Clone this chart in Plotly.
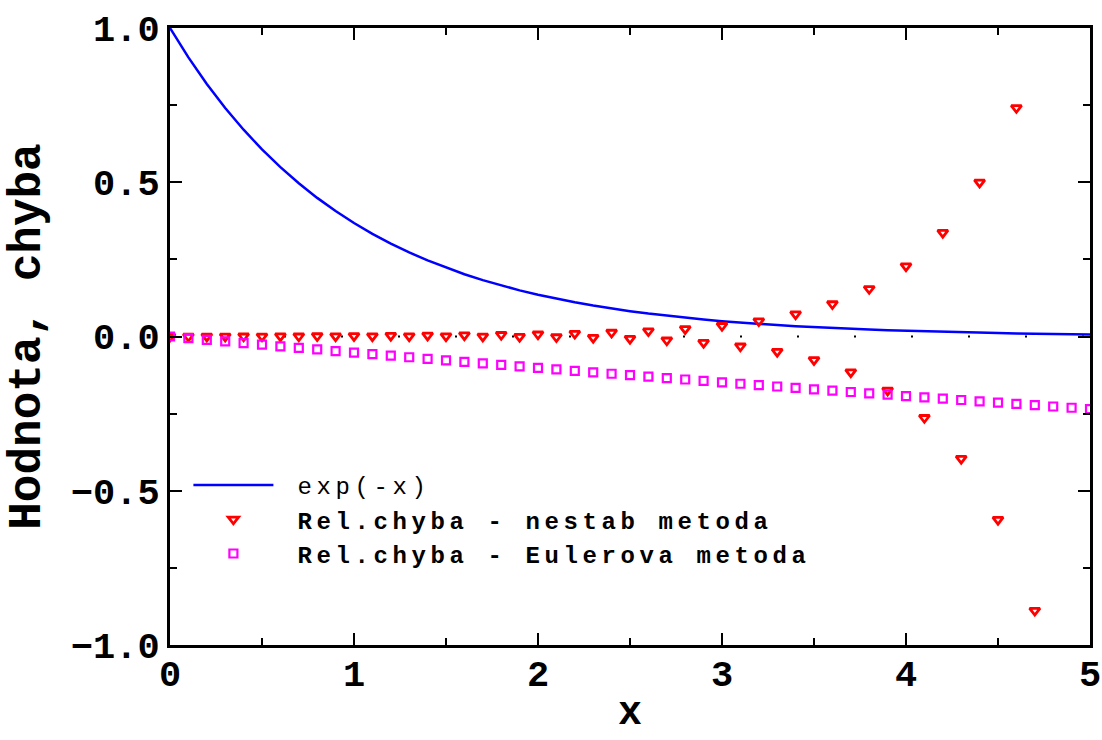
import plotly.graph_objects as go

# x grid (step 0.1)
x = [0.0, 0.1, 0.2, 0.3, 0.4, 0.5, 0.6, 0.7, 0.8, 0.9,
     1.0, 1.1, 1.2, 1.3, 1.4, 1.5, 1.6, 1.7, 1.8, 1.9,
     2.0, 2.1, 2.2, 2.3, 2.4, 2.5, 2.6, 2.7, 2.8, 2.9,
     3.0, 3.1, 3.2, 3.3, 3.4, 3.5, 3.6, 3.7, 3.8, 3.9,
     4.0, 4.1, 4.2, 4.3, 4.4, 4.5, 4.6, 4.7, 4.8, 4.9, 5.0]

# exp(-x)
exp_vals = [1.000, 0.9048, 0.8187, 0.7408, 0.6703, 0.6065, 0.5488, 0.4966, 0.4493, 0.4066,
            0.3679, 0.3329, 0.3012, 0.2725, 0.2466, 0.2231, 0.2019, 0.1827, 0.1653, 0.1496,
            0.1353, 0.1225, 0.1108, 0.1003, 0.0907, 0.0821, 0.0743, 0.0672, 0.0608, 0.0550,
            0.0498, 0.0450, 0.0408, 0.0369, 0.0334, 0.0302, 0.0273, 0.0247, 0.0224, 0.0202,
            0.0183, 0.0166, 0.0150, 0.0136, 0.0123, 0.0111, 0.0101, 0.0091, 0.0082, 0.0074, 0.0067]

# relative error - unstable method
nestab_err = [0.0000, 0.0000, 0.0004, 0.0003, 0.0008, 0.0006, 0.0012, 0.0008, 0.0016, 0.0010,
              0.0021, 0.0011, 0.0027, 0.0011, 0.0035, 0.0009, 0.0044, 0.0005, 0.0056, -0.0003,
              0.0073, -0.0016, 0.0096, -0.0037, 0.0130, -0.0070, 0.0177, -0.0121, 0.0247, -0.0198,
              0.0349, -0.0316, 0.0500, -0.0492, 0.0723, -0.0757, 0.1054, -0.1154, 0.1546, -0.1748,
              0.2278, -0.2634, 0.3368, -0.3958, 0.4993, -0.5935, 0.7414, -0.8884, 1.1023, -1.3284, 1.6403]

# relative error - Euler method
euler_err = [0.0, -0.0053, -0.0107, -0.0160, -0.0212, -0.0264, -0.0317, -0.0368, -0.0420, -0.0471,
             -0.0522, -0.0573, -0.0623, -0.0673, -0.0723, -0.0773, -0.0822, -0.0871, -0.0920, -0.0968,
             -0.1017, -0.1065, -0.1112, -0.1160, -0.1207, -0.1254, -0.1301, -0.1347, -0.1394, -0.1440,
             -0.1485, -0.1531, -0.1576, -0.1621, -0.1666, -0.1711, -0.1755, -0.1799, -0.1843, -0.1887,
             -0.1930, -0.1973, -0.2016, -0.2059, -0.2101, -0.2143, -0.2185, -0.2227, -0.2269, -0.2310, -0.2351]

x_ticks = [0, 1, 2, 3, 4, 5]
y_ticks = [-1.0, -0.5, 0.0, 0.5, 1.0]

FONT = "Liberation Mono"
LS = "letter-spacing:4.6px"
PAD = "\u00a0"

fig = go.Figure()
fig.add_trace(go.Scatter(
    x=x, y=exp_vals, mode="lines",
    name=f'<span style="{LS}">{PAD}exp(-x)</span>',
    line=dict(color="#0000FF", width=2.5)))
fig.add_trace(go.Scatter(
    x=x, y=nestab_err, mode="markers",
    name=f'<span style="{LS}">{PAD}<b>Rel.chyba - nestab metoda</b></span>',
    marker=dict(symbol="triangle-down-open", size=9, color="#FF0000",
                line=dict(width=2.8, color="#FF0000"))))
fig.add_trace(go.Scatter(
    x=x, y=euler_err, mode="markers",
    name=f'<span style="{LS}">{PAD}<b>Rel.chyba - Eulerova metoda</b></span>',
    marker=dict(symbol="square-open", size=8, color="#FF00FF",
                line=dict(width=2.2, color="#FF00FF"))))

# dotted zero line
fig.add_shape(type="line", xref="x domain", yref="y", x0=0, x1=1, y0=0, y1=0,
              line=dict(color="black", width=2, dash="2px,55px"), layer="below")

# x-axis title (placed as annotation below the tick labels)
fig.add_annotation(text="x", xref="paper", yref="paper", x=0.5, y=-0.1507,
                   xanchor="center", yanchor="bottom", showarrow=False,
                   font=dict(family=FONT, size=40, color="black", weight="bold"))

axis_common = dict(
    showline=True, linewidth=3, linecolor="black", mirror="allticks",
    ticks="inside", ticklen=12, tickwidth=2, tickcolor="black",
    showgrid=False, zeroline=False, automargin=False,
    tickfont=dict(family=FONT, size=37, color="black", weight="bold"),
)

fig.update_layout(
    width=1102, height=740,
    margin=dict(l=170, r=12, t=28, b=95),
    paper_bgcolor="white", plot_bgcolor="white",
    font=dict(family=FONT, color="black"),
    showlegend=True,
    legend=dict(x=0.02, y=0.295, xanchor="left", yanchor="top",
                bgcolor="rgba(0,0,0,0)", borderwidth=0,
                font=dict(family=FONT, size=24, color="black"),
                itemwidth=80, tracegroupgap=0),
    xaxis=dict(range=[0, 5], tickmode="array", tickvals=x_ticks,
               minor=dict(dtick=0.5, ticks="inside", ticklen=7, tickwidth=2, tickcolor="black"),
               ticklabelstandoff=-6,
               **axis_common),
    yaxis=dict(range=[-1, 1], tickmode="array", tickvals=y_ticks, tickformat=".1f",
               minor=dict(dtick=0.25, ticks="inside", ticklen=7, tickwidth=2, tickcolor="black"),
               title=dict(text="Hodnota, chyba",
                          font=dict(family=FONT, size=46, color="black", weight="bold"),
                          standoff=16),
               ticklabelstandoff=0,
               **axis_common),
)

fig.write_html("out.html",
               config={"displayModeBar": False},
               post_script="document.body.style.margin='0';document.body.style.overflow='hidden';")
